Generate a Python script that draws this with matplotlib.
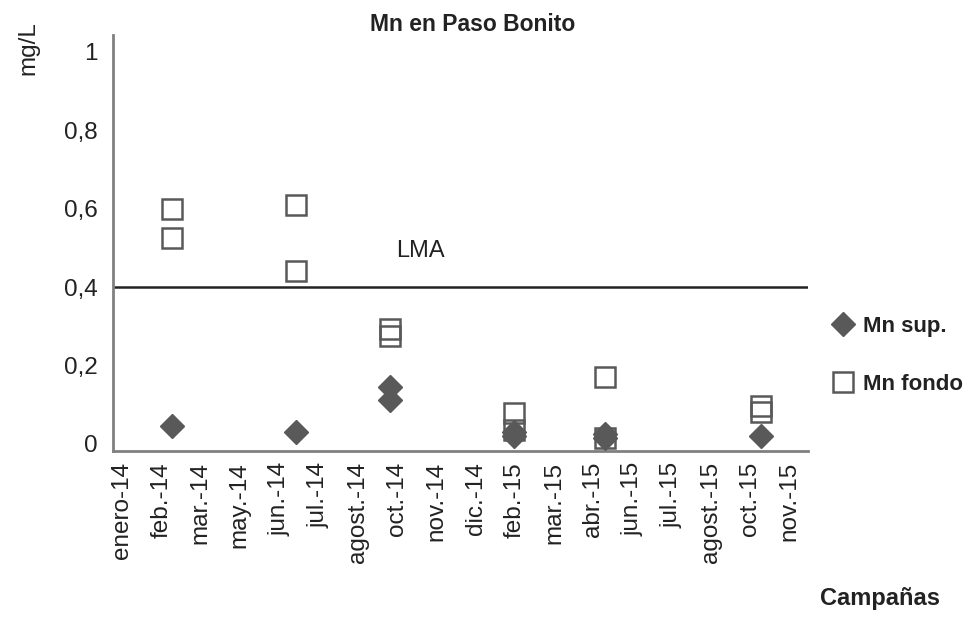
import matplotlib
matplotlib.use("Agg")
import matplotlib.pyplot as plt

plt.rcParams['font.family'] = ['Liberation Sans', 'DejaVu Sans']

# Category tick labels (campaigns axis)
tick_labels = ["enero-14", "feb.-14", "mar.-14", "may.-14", "jun.-14", "jul.-14",
               "agost.-14", "oct.-14", "nov.-14", "dic.-14", "feb.-15", "mar.-15",
               "abr.-15", "jun.-15", "jul.-15", "agost.-15", "oct.-15", "nov.-15"]

# Sampling positions (in tick-label units along the time axis)
sup_x = [1.27, 4.43, 6.82, 6.82, 9.97, 9.97, 12.29, 12.29, 16.28]
sup_y = [0.045, 0.030, 0.145, 0.112, 0.030, 0.020, 0.025, 0.015, 0.020]

fondo_x = [1.27, 1.27, 4.43, 4.43, 6.82, 6.82, 9.97, 9.97, 12.29, 12.29, 16.28, 16.28]
fondo_y = [0.600, 0.525, 0.610, 0.440, 0.292, 0.276, 0.080, 0.035, 0.170, 0.015, 0.098, 0.082]

lma_value = 0.4
y_ticks = [0, 0.2, 0.4, 0.6, 0.8, 1.0]
y_tick_labels = ["0", "0,2", "0,4", "0,6", "0,8", "1"]

fig = plt.figure(figsize=(9.72, 6.37), dpi=100)
ax = fig.add_axes([0.1163, 0.292, 0.8310 - 0.1163, 0.945 - 0.292])

gray = "#595959"
ax.plot(sup_x, sup_y, linestyle="none", marker="D", markersize=12,
        color=gray, markeredgecolor=gray, label="Mn sup.", zorder=3)
ax.plot(fondo_x, fondo_y, linestyle="none", marker="s", markersize=14,
        markerfacecolor="none", markeredgecolor=gray, markeredgewidth=1.8,
        label="Mn fondo", zorder=4)

ax.axhline(lma_value, color="#222222", linewidth=1.8, zorder=2)
ax.text(7.6, lma_value + 0.092, "LMA", fontsize=17, color="#222222", ha="center", va="center")

ax.set_xlim(-0.23, 17.46)
ax.set_ylim(-0.018, 1.043)
ax.set_xticks(range(len(tick_labels)))
ax.set_xticklabels(tick_labels, rotation=90, fontsize=17.5, color="#222222")
ax.set_yticks(y_ticks)
ax.set_yticklabels(y_tick_labels, fontsize=17.5, color="#222222")
ax.tick_params(axis="both", length=0)
ax.tick_params(axis="y", pad=11)
ax.tick_params(axis="x", pad=8)

for s in ["top", "right"]:
    ax.spines[s].set_visible(False)
for s in ["left", "bottom"]:
    ax.spines[s].set_color("#808080")
    ax.spines[s].set_linewidth(2)

fig.text(0.486, 0.962, "Mn en Paso Bonito", fontsize=16.5, fontweight="bold",
         ha="center", va="center", color="#222222")
fig.text(0.029, 0.925, "mg/L", fontsize=17.5, rotation=90, ha="center", va="center",
         color="#222222")
fig.text(0.905, 0.061, "Campañas", fontsize=17, fontweight="bold",
         ha="center", va="center", color="#222222")

leg = ax.legend(loc="center left", bbox_to_anchor=(0.835, 0.442),
                bbox_transform=fig.transFigure, frameon=False,
                prop={"weight": "bold", "size": 16}, labelspacing=1.65,
                handletextpad=0.4, handlelength=1.0)
for t in leg.get_texts():
    t.set_color("#222222")

fig.savefig("out.png", dpi=100)
